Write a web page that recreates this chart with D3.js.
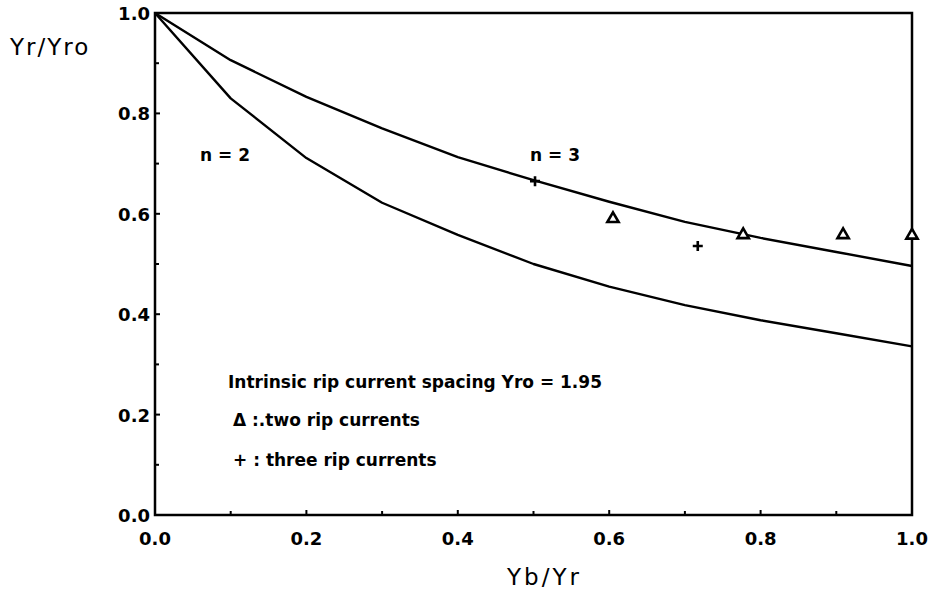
<!DOCTYPE html>
<html><head><meta charset="utf-8">
<script src="https://cdn.jsdelivr.net/npm/d3@7"></script>
<style>body{margin:0;background:#fff}svg{display:block}</style>
</head><body>
<script>
const xTicks = [0, 0.2, 0.4, 0.6, 0.8, 1.0];
const yTicks = [0, 0.2, 0.4, 0.6, 0.8, 1.0];
const curveX = [0, 0.1, 0.2, 0.3, 0.4, 0.5, 0.6, 0.7, 0.8, 0.9, 1.0];
const n2Values = [1.0, 0.83, 0.711, 0.622, 0.558, 0.50, 0.455, 0.418, 0.388, 0.362, 0.336];
const n3Values = [1.0, 0.906, 0.833, 0.77, 0.713, 0.667, 0.624, 0.584, 0.552, 0.524, 0.496];
const twoRipX = [0.605, 0.777, 0.909, 1.0];
const twoRipY = [0.59, 0.558, 0.558, 0.557];
const threeRipX = [0.502, 0.717];
const threeRipY = [0.665, 0.536];
const legendLines = ["Intrinsic rip current spacing Yro = 1.95", "\u0394 :.two rip currents", "+ : three rip currents"];

const W = 932, H = 591;
const svg = d3.select("body").append("svg").attr("width", W).attr("height", H);
const x = d3.scaleLinear().domain([0, 1]).range([155, 912]);
const y = d3.scaleLinear().domain([0, 1]).range([515, 13]);
const font = "'DejaVu Sans', sans-serif";

// frame
svg.append("rect").attr("x", x(0)).attr("y", y(1)).attr("width", x(1) - x(0)).attr("height", y(0) - y(1))
  .attr("fill", "none").attr("stroke", "#000").attr("stroke-width", 2.5);

// ticks (inward)
const minor = d3.range(0, 1.0001, 0.1);
minor.forEach((v, i) => {
  const len = i % 2 === 0 ? 5 : 4;
  if (v > 0 && v < 1) {
    svg.append("line").attr("x1", x(v)).attr("x2", x(v)).attr("y1", y(0)).attr("y2", y(0) - len)
      .attr("stroke", "#000").attr("stroke-width", 2);
    svg.append("line").attr("x1", x(0)).attr("x2", x(0) + len).attr("y1", y(v)).attr("y2", y(v))
      .attr("stroke", "#000").attr("stroke-width", 2);
  }
});

// tick labels
svg.selectAll(".xt").data(xTicks).enter().append("text")
  .attr("x", d => x(d)).attr("y", 545).attr("text-anchor", "middle")
  .attr("font-family", font).attr("font-weight", "bold").attr("font-size", 18)
  .text(d => d.toFixed(1));
svg.selectAll(".yt").data(yTicks).enter().append("text")
  .attr("x", 150).attr("y", d => y(d) + 7).attr("text-anchor", "end")
  .attr("font-family", font).attr("font-weight", "bold").attr("font-size", 18)
  .text(d => d.toFixed(1));

// axis titles
svg.append("text").attr("x", 10).attr("y", 55).attr("font-family", font).attr("font-size", 23)
  .attr("letter-spacing", 2).text("Yr/Yro");
svg.append("text").attr("x", 507).attr("y", 585).attr("font-family", font).attr("font-size", 23)
  .attr("letter-spacing", 3).text("Yb/Yr");

// curves
const line = d3.line().x(d => x(d[0])).y(d => y(d[1]));
[n2Values, n3Values].forEach(vals => {
  svg.append("path").datum(curveX.map((v, i) => [v, vals[i]])).attr("d", line)
    .attr("fill", "none").attr("stroke", "#000").attr("stroke-width", 2.4).attr("stroke-linejoin", "round");
});

// markers
const tri = d3.symbol().type(d3.symbolTriangle).size(55);
twoRipX.forEach((v, i) => {
  svg.append("path").attr("d", tri()).attr("transform", `translate(${x(v)},${y(twoRipY[i])})`)
    .attr("fill", "#fff").attr("stroke", "#000").attr("stroke-width", 2.6);
});
threeRipX.forEach((v, i) => {
  const cx = x(v), cy = y(threeRipY[i]);
  svg.append("path").attr("d", `M${cx - 5},${cy}H${cx + 5}M${cx},${cy - 5}V${cy + 5}`)
    .attr("stroke", "#000").attr("stroke-width", 2.6);
});

// labels
svg.append("text").attr("x", 200).attr("y", 161).attr("font-family", font).attr("font-weight", "bold").attr("font-size", 17).text("n = 2");
svg.append("text").attr("x", 530).attr("y", 161).attr("font-family", font).attr("font-weight", "bold").attr("font-size", 17).text("n = 3");

// legend text
const ly = [388, 426, 466];
legendLines.forEach((t, i) => {
  svg.append("text").attr("x", i === 0 ? 228 : 233).attr("y", ly[i])
    .attr("font-family", font).attr("font-weight", "bold").attr("font-size", 17).text(t);
});
</script>
</body></html>
